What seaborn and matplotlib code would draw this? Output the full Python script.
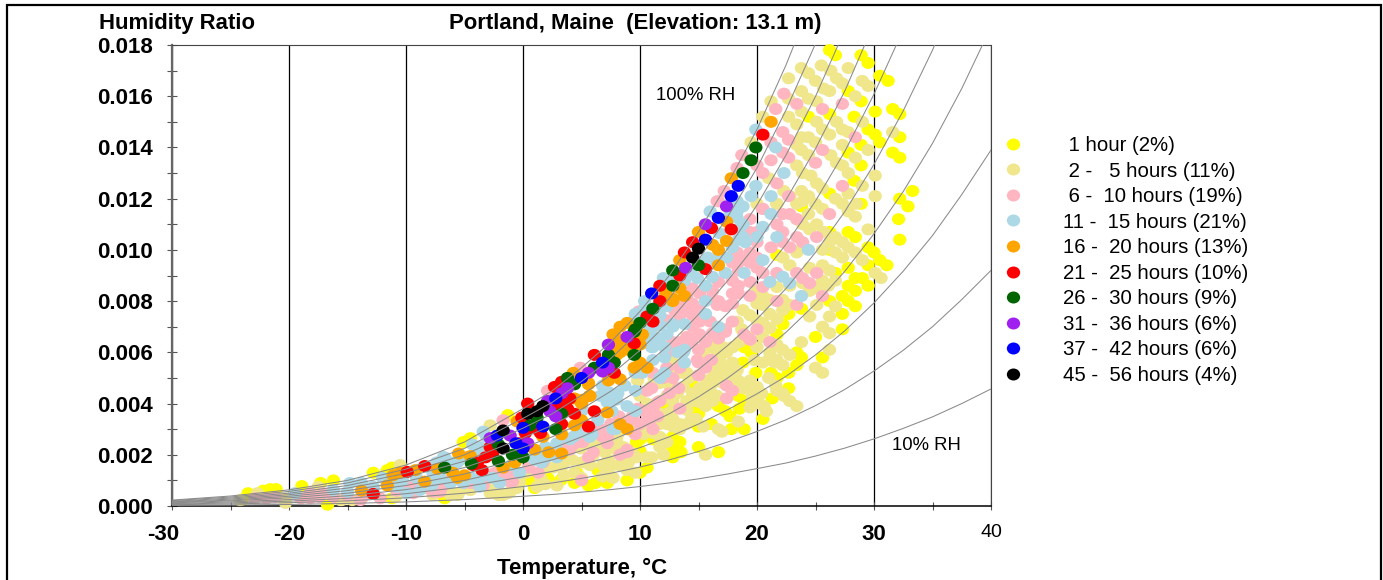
import matplotlib
matplotlib.use("Agg")
import matplotlib.pyplot as plt
import seaborn as sns
import pandas as pd
from matplotlib.patches import Rectangle
from matplotlib.path import Path
from matplotlib.transforms import Affine2D, ScaledTranslation
from matplotlib.ticker import MultipleLocator

# Each series: temperature (deg C) and humidity ratio (g/kg, divided by 1000 when plotted)
h1_t = [26.2,26.7,28.9,29.5,30.5,31.2,27.8,28.9,30.1,31.6,32.2,26.2,24.4,28.3,29.5,30.1,30.5,32.2,28.9,27.8,31.6,32.2,28.9,28.3,26.2,28.9,33.3,32.2,32.9,23.8,32.2,
        26.2,27.8,28.4,21.7,26.2,29.5,30.0,30.5,31.1,29.5,27.8,26.7,28.4,29.0,27.8,28.4,29.5,26.2,27.3,27.8,28.4,27.3,22.7,23.8,22.2,27.3,21.7,25.0,18.9,19.5,23.4,23.8,25.6,18.8,23.4,19.9,21.2,22.7,32.1,
        21.7,22.7,21.3,18.4,18.9,16.7,14.4,14.5,15.0,18.5,17.3,17.7,16.1,15.0,17.8,18.9,20.5,12.2,12.8,13.4,12.8,15.0,13.5,16.7,12.8,10.0,11.1,
        9.7,10.6,10.0,8.9,7.2,5.6,6.2,6.4,7.1,4.4,3.2,2.1,1.6,0.6,1.0,4.6,3.3,6.8,10.0,-4.5,-5.1,-1.3,-6.7,-11.2,-12.8,-11.6,-11.2,-16.2,-17.3,-18.9,-16.7,-23.5,-24.0,-22.2,-21.6,-21.1]
h1_w = [17.8,17.6,17.6,17.3,16.8,16.6,16.2,15.8,15.4,15.5,15.3,15.3,15.2,15.2,14.7,14.5,14.2,14.4,14.1,13.8,13.8,13.6,13.3,12.7,12.2,11.8,12.3,12.0,11.7,11.7,10.4,
        10.7,10.7,10.5,9.8,10.0,10.1,9.9,9.6,9.4,9.4,9.3,9.1,8.9,8.9,8.6,8.4,8.6,8.0,8.2,8.0,7.8,7.5,7.5,7.7,7.1,6.9,6.7,6.6,6.2,6.0,6.0,5.8,5.8,5.6,5.5,5.2,5.2,5.2,11.2,
        5.0,4.6,4.2,4.3,4.1,3.9,4.8,3.9,3.6,3.8,3.7,3.5,3.2,3.1,3.0,3.0,3.4,3.8,2.7,2.5,2.3,2.3,2.1,2.1,1.9,2.6,2.6,
        2.5,1.5,1.3,1.0,0.9,0.8,0.9,1.4,1.3,0.9,1.0,1.1,1.1,1.0,0.7,1.3,1.05,1.5,2.15,2.65,2.5,3.55,0.3,0.3,1.3,1.4,1.5,1.0,0.9,0.78,0.05,0.5,0.25,0.6,0.66,0.66]

h2_t = [25.5,27.8,23.8,24.4,22.7,26.3,26.8,25.0,27.3,29.0,29.5,25.7,26.2,23.8,24.4,28.4,25.1,21.2,22.7,23.8,20.5,22.7,23.4,25.1,25.6,26.8,27.3,27.8,29.0,23.8,24.4,26.2,25.0,31.6,19.5,23.4,23.8,24.4,27.3,29.5,26.3,26.8,28.4,23.4,23.9,24.6,27.3,27.8,21.0,29.0,30.1,30.1,25.1,25.6,22.3,23.8,24.4,27.8,26.7,27.3,23.4,21.7,25.0,25.6,
        28.4,29.5,27.8,28.5,24.4,23.9,22.8,21.7,20.0,24.5,25.1,23.9,23.4,25.7,26.2,26.7,27.3,27.8,28.4,29.0,30.1,30.6,27.3,26.7,25.6,23.9,23.4,22.2,22.8,24.5,25.6,26.2,26.7,26.1,25.6,23.9,22.8,25.1,24.5,26.7,26.2,24.5,25.1,22.8,22.2,21.7,21.1,20.5,20.0,20.5,21.1,21.7,25.6,26.2,22.2,20.0,19.4,18.8,20.5,20.0,21.1,23.8,26.2,20.5,21.7,22.2,22.8,21.1,21.7,22.2,25.0,25.6,20.5,18.3,17.1,16.6,16.0,15.4,17.9,
        21.1,21.5,20.0,19.8,19.4,18.8,20.4,21.7,22.3,20.0,19.6,20.6,19.4,18.4,16.7,15.6,14.4,13.4,11.7,15.6,10.6,17.9,18.5,18.3,17.7,17.1,16.8,16.2,15.7,15.1,16.0,16.6,14.5,13.7,14.0,13.2,12.8,12.3,11.7,11.7,12.8,12.3,11.7,11.1,11.1,10.6,10.0,10.9,11.7,12.8,14.0,16.6,17.4,16.8,
        9.6,8.9,7.7,6.8,2.9,1.9,-1.1,-1.7,4.4,7.3,6.8,5.7,5.0,4.2,3.4,9.4,7.7,6.6,8.1,9.4,2.6,1.5,3.8,4.9,5.7,-2.1,-2.7,-1.3,-5.5,-4.5,-6.2,-2.8,
        -10.5,-15.6,-10.9,-7.7,-5.6,-2.8,-2.2,-17.5,-24.2,-22.7,-20.3,-20.3,-15.5,-14.6,-6.0,
        18.7,19.3,21.0,21.6,22.2,22.8,23.4,19.0,19.6,20.2,20.8,17.8,18.3,16.4,15.0,13.6,14.2,12.6,11.2,9.8,8.6,9.0,8.0,6.2,5.4,
        12.8,13.4,12.6,14.0,16.8,17.9,16.2,15.6,17.1,18.4,18.5,14.5,15.1,16.2,14.0,12.8,12.3,13.4,12.8,14.0,11.7,12.3,
        3.5,5.0,7.4,8.2,9.0,9.7,11.0,12.0,2.0,0.3,1.2,-0.3,-0.5,-3.0,6.0,7.0,8.6,8.0,10.3,10.9,15.4,14.8,17.0]
h2_w = [17.2,17.1,17.1,16.9,16.7,17.0,16.7,16.6,16.5,16.6,16.4,16.3,16.2,16.2,15.9,16.0,15.8,15.8,15.9,15.4,15.2,15.2,14.9,15.0,14.7,15.0,14.7,14.6,15.0,14.4,14.4,14.5,14.2,14.6,14.2,14.1,13.9,13.7,14.1,13.9,13.7,13.4,13.6,13.3,13.0,12.9,13.3,13.0,12.8,12.5,12.9,12.1,12.6,12.4,12.3,12.3,12.1,12.2,12.0,11.8,11.8,11.8,11.8,11.6,
        11.3,10.8,11.5,11.8,11.4,11.9,12.1,11.8,11.8,10.8,11.0,11.0,11.2,10.7,10.3,10.5,10.3,10.1,9.9,9.6,9.1,8.9,9.7,9.9,10.0,10.1,9.9,9.7,9.4,9.3,9.4,9.2,8.8,8.6,8.8,8.7,8.6,8.5,8.4,7.8,7.4,7.4,7.85,7.85,8.05,8.55,8.05,8.2,8.4,7.85,7.5,7.3,7.0,6.75,7.65,7.9,7.45,7.65,7.15,7.25,6.95,6.4,6.1,6.6,6.3,6.1,5.9,6.0,5.7,5.5,5.4,5.2,5.6,7.2,6.2,6.0,6.2,6.0,6.2,
        5.8,5.6,6.2,5.7,4.9,4.6,4.4,4.5,4.3,4.65,4.1,3.9,3.85,3.3,3.0,3.9,3.4,3.0,2.3,2.0,1.9,5.6,6.4,5.3,5.2,5.4,5.2,5.0,4.9,4.6,4.5,4.3,4.4,4.65,4.1,4.4,4.1,4.3,4.1,3.6,3.4,3.2,3.2,3.4,2.85,4.0,4.3,4.65,4.8,6.0,6.6,6.4,6.0,5.7,
        1.3,1.4,1.1,1.15,0.8,0.85,0.55,0.43,1.3,1.8,1.6,1.6,1.7,1.8,1.6,2.05,2.45,2.3,2.8,2.9,1.5,1.1,1.9,2.25,2.4,0.43,0.62,0.5,0.5,0.62,0.43,3.15,
        1.6,0.23,0.35,0.43,0.43,0.5,0.7,0.75,0.23,0.5,0.3,0.12,0.23,0.23,0.5,
        6.9,6.6,5.0,4.7,4.4,4.1,3.9,4.6,4.3,4.0,3.7,5.0,4.7,5.3,5.1,5.3,5.0,5.2,5.0,4.9,1.7,2.0,2.2,2.6,2.9,
        5.6,5.2,4.65,5.2,6.1,6.2,4.8,4.4,4.8,4.9,4.65,4.1,4.05,4.1,3.75,3.75,3.6,3.2,3.1,3.2,2.7,2.5,
        1.2,1.1,1.5,1.6,1.7,1.9,1.9,2.0,1.5,1.3,0.75,0.95,0.7,0.95,2.0,2.1,2.3,2.6,2.8,3.0,3.1,3.4,2.9]

h3_t = [22.3,21.6,23.4,25.6,27.3,22.2,22.7,28.4,25.6,21.2,22.2,22.7,21.2,25.0,18.7,18.3,20.5,20.0,21.7,27.3,22.7,17.2,16.7,20.5,
        20.5,22.8,23.4,26.2,19.4,18.3,17.9,18.4,19.4,20.0,21.2,22.2,22.8,23.4,23.9,25.1,21.7,22.2,25.1,23.4,23.9,24.5,25.6,23.4,21.7,20.5,19.4,18.4,17.9,16.7,17.3,16.6,16.1,14.5,14.0,14.5,15.1,14.0,13.4,17.9,17.3,16.7,15.1,14.5,13.4,12.3,13.4,21.1,19.4,14.9,12.3,9.9,16.6,20.0,
        20.0,17.3,16.7,18.9,19.4,15.0,15.6,14.4,13.4,15.0,16.1,15.0,15.6,15.0,13.4,12.8,10.6,11.7,11.1,13.4,17.4,17.9,17.4,11.1,10.0,10.6,
        9.4,9.6,8.9,8.3,6.0,5.6,5.0,-1.1,1.7,5.1,6.6,7.2,10.6,4.0,4.4,8.9,7.2,5.0,6.2,-3.4,-0.9,-1.7,2.1,4.9,10.0,11.5,10.0,11.1,12.3,12.8,-6.7,-5.4,-4.2,
        -18.2,-17.4,-13.9,-12.2,-7.7,-6.8,-4.5,-2.0,-9.0,-9.7,-18.2,-17.1,-13.3,-22.9,-21.9,-21.2,-19.0,-13.7,-9.4,-7.1,
        15.1,16.2,16.7,17.9,14.5,15.1,16.0,16.2,17.9,18.4,19.4,21.7,18.8,19.4,20.0,20.5,19.4,20.0,22.2,13.0,14.0,16.0,14.0,
        -0.5,0.5,1.3,2.4,3.0,3.6,4.3,5.0,5.8,6.8,7.5,8.2,9.0,9.8,10.8,11.5,12.5,13.3,12.0,11.0,-3.0,-2.4,-1.5,-5.0,-7.0,-8.2,-10.8,-12.8,-15.0,-16.2]
h3_w = [16.1,15.5,15.7,15.5,15.7,14.6,14.3,14.4,13.9,14.2,13.8,13.6,13.5,13.4,13.7,13.2,13.0,13.3,12.6,12.5,12.1,12.3,11.9,11.6,
        11.6,11.4,11.2,11.4,10.7,9.9,9.5,9.2,9.5,9.3,10.1,10.3,10.1,10.5,10.3,10.5,11.0,10.7,9.1,9.1,8.9,8.7,8.2,7.85,8.0,8.55,8.2,8.3,8.3,8.75,7.8,7.85,8.1,8.5,8.2,7.9,7.65,7.6,7.85,7.2,6.9,6.55,6.7,7.0,7.25,7.25,6.4,6.4,6.5,5.7,6.0,7.6,11.9,10.7,
        6.9,6.8,6.55,6.7,6.5,6.7,6.4,6.4,6.3,6.1,5.7,5.6,5.4,5.1,5.4,5.0,4.5,4.1,3.8,3.8,4.7,4.5,4.2,3.0,3.2,3.55,
        3.55,2.8,2.2,2.0,2.1,1.9,1.0,0.95,1.7,2.5,3.0,2.7,3.7,2.2,2.7,2.1,2.45,2.5,2.85,0.8,0.95,3.35,4.5,5.4,5.2,4.05,3.75,5.2,5.4,6.4,1.0,1.0,0.9,
        0.3,0.35,0.23,0.3,0.55,0.8,0.9,1.1,0.9,0.75,0.5,0.5,0.62,0.3,0.3,0.35,0.3,0.35,0.5,0.55,
        8.3,8.4,8.0,7.9,7.45,7.2,7.2,6.75,8.8,8.6,8.75,9.1,9.6,9.9,9.7,9.1,11.2,10.3,11.4,7.6,6.6,5.7,6.3,
        1.3,1.5,1.3,2.0,2.1,2.4,2.4,3.0,2.9,2.7,3.2,3.5,3.3,3.8,3.3,3.5,4.4,4.6,5.0,4.6,1.1,1.3,1.2,0.9,0.9,0.7,0.6,0.5,0.4,0.35]

h4_t = [19.9,21.6,22.3,19.9,21.2,19.5,18.3,18.8,16.0,18.3,21.2,18.8,20.5,18.3,20.0,21.7,18.8,19.0,24.4,20.5,17.4,15.8,18.9,17.3,21.1,22.2,22.8,23.8,15.6,14.9,14.1,12.0,15.6,10.4,15.6,12.8,13.8,16.7,12.3,11.7,11.1,12.1,13.8,13.8,10.9,
        11.0,12.1,11.0,13.7,11.1,12.1,11.7,10.2,12.8,11.7,13.2,10.6,9.6,9.6,8.1,7.3,8.0,9.6,9.6,7.6,6.8,4.3,5.9,7.7,1.0,1.9,-3.4,-2.6,-0.3,-4.3,-6.7,-3.4,-5.6,1.5,
        5.7,6.4,7.9,0.9,2.0,2.9,1.6,-1.0,-16.2,-15.0,-9.9,-8.8,-7.8,-6.8,-9.1,-10.8,-12.0,-3.7,-7.1,-6.5,-7.9,-3.7,-2.0,-3.1,-19.5,-11.1,-10.3,-12.8,-7.7,-5.4,
        11.5,12.3,10.9,11.5,10.3,9.6,10.7,11.7,12.7,13.8,14.3,15.1,16.2,16.4,17.9,18.4,16.8,17.7,18.5,
        8.7,6.6,7.2,8.9,5.1,4.7,4.0,2.9,-6.2,-3.9,-7.7,-8.2,-6.2,-5.1,-4.3,-3.7,-4.8,-7.4,-10.5,-13.8,-14.8]
h4_w = [14.7,14.0,13.0,12.5,12.1,12.1,11.9,11.7,11.5,11.5,11.4,11.0,10.9,11.25,10.5,10.5,10.5,10.3,10.0,9.6,9.7,9.7,9.1,9.1,8.75,8.95,8.7,8.2,8.6,8.9,9.1,8.9,8.0,8.0,7.5,7.0,7.1,7.0,6.7,7.45,6.2,5.8,6.1,5.6,6.9,
        6.7,6.2,6.2,6.0,5.7,5.2,5.0,5.2,7.1,7.05,6.0,6.6,7.5,5.2,4.4,4.45,4.15,4.5,3.7,3.7,4.7,2.7,2.8,3.0,1.8,2.3,1.2,1.1,1.3,2.4,1.9,2.9,1.7,1.9,
        2.7,3.35,3.0,1.9,1.9,1.9,1.7,1.6,0.62,0.55,0.5,0.62,0.8,1.9,1.1,0.75,1.1,0.75,1.1,1.7,1.5,2.3,0.9,2.7,0.5,0.8,1.0,0.75,1.1,1.8,
        7.8,7.8,7.5,7.25,7.65,7.4,6.55,6.55,8.75,8.8,9.2,9.5,8.95,9.6,10.1,10.4,10.65,11.4,10.85,
        4.7,4.3,4.05,3.9,3.75,2.85,2.6,2.45,1.7,2.05,1.3,0.9,0.9,0.9,1.1,1.1,1.9,1.7,0.95,0.9,0.9]

h5_t = [-13.8,-11.6,-11.1,-9.2,-8.4,-7.3,-6.0,-5.6,-5.0,-5.5,-4.5,-1.7,-0.7,-10.5,1.0,2.2,3.3,1.7,3.3,4.4,5.0,4.4,5.1,5.7,5.6,4.3,7.2,8.3,8.9,7.3,8.3,10.0,9.5,10.6,-0.5,7.7,7.9,8.3,9.1,10.0,
        12.8,8.3,8.9,7.9,8.3,9.0,8.0,10.2,10.0,5.6,5.7,5.0,17.4,15.0,17.4,16.2,16.7,13.4,16.7,13.4,12.2,13.8,12.8,21.2,17.8]
h5_w = [0.6,0.8,1.2,1.4,0.95,1.45,1.3,1.1,1.2,2.05,1.95,1.5,1.7,1.3,2.2,2.1,2.05,2.7,2.8,3.15,3.35,4.2,4.15,4.3,4.75,5.2,3.65,3.2,3.0,4.9,4.95,5.6,5.4,5.4,3.3,6.7,6.3,6.0,6.1,6.6,
        8.0,7.0,7.15,6.6,6.4,6.1,5.9,6.7,6.3,4.8,4.3,4.0,11.1,10.7,10.35,10.2,10.0,9.6,9.4,8.5,8.3,8.2,8.1,15.0,12.8]

h6_t = [-12.8,-9.9,-8.4,-3.9,-3.5,-3.2,-2.6,-2.8,-4.3,-0.3,0.4,-0.1,2.7,3.3,4.0,2.9,3.8,4.4,3.3,1.2,6.1,5.6,6.1,7.8,9.5,2.3,3.4,0.2,1.5,11.7,10.6,11.1,17.8,16.1,14.5,13.8,15.6,13.4,11.7,20.5]
h6_w = [0.47,1.33,1.56,1.7,1.4,1.9,2.0,2.3,1.6,2.45,4.0,3.45,4.65,4.85,4.2,3.95,3.8,3.6,3.2,3.0,3.7,3.1,5.9,5.2,6.35,3.75,4.05,2.85,2.85,8.0,7.4,7.2,10.8,10.85,10.3,9.9,9.25,9.0,8.6,14.5]

h7_t = [-6.7,-4.4,-2.1,-0.9,0.0,-2.1,2.8,3.3,1.2,0.6,3.8,4.4,6.1,7.3,7.8,9.5,9.5,10.0,9.6,11.1,12.8,12.8,15.0,19.9,19.5,18.8]
h7_w = [1.5,1.65,1.75,2.0,1.9,2.4,3.0,3.6,3.45,3.15,5.0,4.75,5.4,5.9,5.6,5.9,6.8,7.15,6.9,7.7,9.2,8.6,9.4,14.0,13.5,13.0]

h8_t = [-2.8,-1.1,0.4,2.1,3.8,3.3,2.3,2.8,5.6,7.3,8.9,7.3,6.8,17.4,15.6,13.9]
h8_w = [2.65,2.75,2.45,4.1,4.6,4.4,3.7,3.5,5.2,6.3,6.6,5.4,5.25,11.7,11.0,9.3]

h9_t = [-2.2,-0.6,0.0,0.0,1.7,2.8,5.0,6.8,17.8,16.7,15.6,11.0,18.4]
h9_w = [2.75,2.45,2.25,3.05,3.1,4.2,5.0,5.6,12.1,11.25,10.4,8.3,12.5]

h10_t = [-1.7,-1.7,0.4,1.2,1.7,15.0,14.5]
h10_w = [2.95,2.25,3.6,3.7,3.9,10.05,9.7]

series_labels = [" 1 hour (2%)", " 2 -   5 hours (11%)", " 6 -  10 hours (19%)", "11 -  15 hours (21%)",
                 "16 -  20 hours (13%)", "21 -  25 hours (10%)", "26 -  30 hours (9%)", "31 -  36 hours (6%)",
                 "37 -  42 hours (6%)", "45 -  56 hours (4%)"]
series_colors = ["#FFFF00", "#F0E68C", "#FFB6C1", "#ADD8E6", "#FFA500", "#FF0000", "#006400", "#A020F0", "#0000FF", "#000000"]
series_t = [h1_t, h2_t, h3_t, h4_t, h5_t, h6_t, h7_t, h8_t, h9_t, h10_t]
series_w = [h1_w, h2_w, h3_w, h4_w, h5_w, h6_w, h7_w, h8_w, h9_w, h10_w]

# Constant relative humidity curves
rh_t = [-30,-25,-20,-15,-10,-5,0,2.5,5,7.5,10,12.5,15,17.5,20,22.5,25,27.5,30,32.5,35,37.5,40]
rh100 = [.23,.39,.63,1.0,1.6,2.5,3.8,4.5,5.4,6.4,7.6,9.0,10.7,12.6,14.7,17.24,20.1,23.4,27.3,31.6,36.6,42.3,49]
rh90 = [.21,.35,.57,.90,1.44,2.25,3.42,4.05,4.86,5.76,6.84,8.1,9.62,11.3,13.2,15.48,18.05,20.98,24.4,28.2,32.7,37.8,43.5]
rh80 = [.18,.31,.50,.80,1.28,2.0,3.04,3.6,4.32,5.12,6.08,7.2,8.55,10.05,11.75,13.72,15.99,18.59,21.6,25.0,28.9,33.3,38.4]
rh70 = [.16,.27,.44,.70,1.12,1.75,2.66,3.15,3.78,4.48,5.32,6.3,7.48,8.8,10.25,11.97,13.95,16.2,18.84,21.8,25.1,28.9,33.3]
rh60 = [.14,.23,.38,.60,.96,1.5,2.28,2.7,3.24,3.84,4.56,5.4,6.4,7.53,8.78,10.23,11.91,13.84,16.08,18.6,21.5,24.7,28.4]
rh50 = [.12,.20,.32,.50,.80,1.25,1.9,2.25,2.7,3.2,3.8,4.5,5.33,6.27,7.3,8.5,9.9,11.49,13.34,15.43,17.8,20.5,23.6]
rh40 = [.09,.16,.25,.40,.64,1.0,1.52,1.8,2.16,2.56,3.04,3.6,4.26,5.0,5.84,6.79,7.89,9.16,10.63,12.28,14.16,16.3,18.7]
rh30 = [.07,.12,.19,.30,.48,.75,1.14,1.35,1.62,1.92,2.28,2.7,3.2,3.76,4.38,5.07,5.9,6.84,7.93,9.17,10.56,12.16,13.9]
rh20 = [.05,.08,.13,.20,.32,.5,.76,.9,1.08,1.28,1.52,1.8,2.13,2.5,2.91,3.37,3.92,4.55,5.27,6.08,7.0,8.06,9.2]
rh10 = [.02,.04,.06,.10,.16,.25,.38,.45,.54,.64,.76,.9,1.06,1.25,1.46,1.68,1.95,2.26,2.62,3.03,3.48,4.0,4.57]
rh_curves = [rh100, rh90, rh80, rh70, rh60, rh50, rh40, rh30, rh20, rh10]

x_tick_labels = ["-30", "-20", "-10", "0", "10", "20", "30", "40"]
y_tick_labels = ["0.000", "0.002", "0.004", "0.006", "0.008", "0.010", "0.012", "0.014", "0.016", "0.018"]

sns.set_theme(style="white")
FONT = "Liberation Sans"
plt.rcParams["font.family"] = [FONT, "DejaVu Sans"]

W, H = 1383, 580
fig = plt.figure(figsize=(W / 100, H / 100), dpi=100)
ax = fig.add_axes([172 / W, (H - 506) / H, 819 / W, 461 / H])

frames = [pd.DataFrame({"T": t, "w": [v / 1000 for v in w], "hours": lab})
          for t, w, lab in zip(series_t, series_w, series_labels)]
df = pd.concat(frames, ignore_index=True)

oval = Path.unit_circle().transformed(Affine2D().scale(1.0, 0.9))
sns.scatterplot(data=df, x="T", y="w", hue="hours", hue_order=series_labels,
                palette=series_colors, s=92, marker=oval, linewidth=0, ax=ax, clip_on=False, zorder=3)

for curve in rh_curves:
    sns.lineplot(x=rh_t, y=[v / 1000 for v in curve], color="#8a8a8a", lw=0.75,
                 estimator=None, sort=False, legend=False, ax=ax, zorder=4)

ax.set_xlim(-30, 40)
ax.set_ylim(0, 0.018)
ax.set_xlabel("")
ax.set_ylabel("")
ax.xaxis.set_minor_locator(MultipleLocator(5))
ax.yaxis.set_minor_locator(MultipleLocator(0.001))
ax.set_xticks(range(-30, 41, 10))
ax.set_xticklabels(x_tick_labels)
ax.set_yticks([i * 0.002 for i in range(10)])
ax.set_yticklabels(y_tick_labels)
ax.set_axisbelow(True)
ax.grid(True, which="major", axis="x", color="black", lw=0.9)
ax.grid(False, axis="y")

ax.tick_params(axis="y", which="both", direction="inout", length=7, width=0.8, color="#555555", left=True, pad=10,
               labelsize=16, labelcolor="black")
ax.tick_params(axis="x", which="both", direction="inout", length=6, width=0.8, color="#555555", bottom=True, pad=10,
               labelsize=16, labelcolor="black")
for lab in ax.get_yticklabels():
    lab.set_fontweight("bold")
for lab in ax.get_xticklabels():
    lab.set_fontweight("bold")
xl = ax.get_xticklabels()
xl[-1].set_fontweight("normal")
xl[-1].set_fontsize(14)
xl[0].set_transform(xl[0].get_transform() + ScaledTranslation(-6.5 / 72, 0, fig.dpi_scale_trans))

ax.spines["left"].set(color="#666666", lw=1.6)
ax.spines["bottom"].set(color="black", lw=1.1, linestyle=(0, (2, 1)))
ax.spines["top"].set(color="#444444", lw=0.8, linestyle=(0, (1, 1)))
ax.spines["right"].set(color="#444444", lw=0.8, linestyle=(0, (1, 1)))

def fx(px):
    return px / W
def fy(py):
    return 1 - py / H

fig.text(fx(177), fy(23), "Humidity Ratio", ha="center", va="center", fontsize=15.9, fontweight="bold", color="black")
fig.text(fx(635), fy(23), "Portland, Maine  (Elevation: 13.1 m)", ha="center", va="center", fontsize=15.9, fontweight="bold", color="black")
fig.text(fx(582), fy(568), "Temperature, \u00b0C", ha="center", va="center", fontsize=16, fontweight="bold", color="black")
fig.text(fx(695.5), fy(96), "100% RH", ha="center", va="center", fontsize=13.3, color="black")
fig.text(fx(926), fy(445), "10% RH", ha="center", va="center", fontsize=13.3, color="black")

fig.add_artist(Rectangle((7 / W, -0.05), (1381 - 7) / W, fy(5) + 0.05, transform=fig.transFigure,
                         fill=False, edgecolor="black", lw=1.6))

leg = ax.legend(loc="upper left", bbox_to_anchor=(992.5 / W, fy(136)), bbox_transform=fig.transFigure,
                frameon=False, fontsize=14.7, labelspacing=0.32, handletextpad=1.45, borderpad=0, borderaxespad=0,
                handlelength=2.0)
for t in leg.get_texts():
    t.set_color("black")

fig.savefig("out.png", dpi=100)
